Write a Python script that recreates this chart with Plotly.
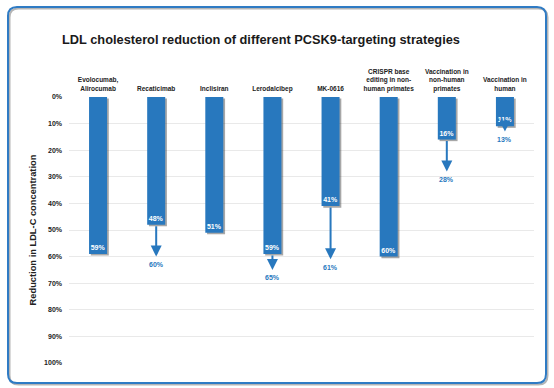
import plotly.graph_objects as go

categories = ["Evolocumab,<br>Alirocumab", "Recaticimab", "Inclisiran", "Lerodalcibep",
              "MK-0616", "CRISPR base<br>editing in non-<br>human primates",
              "Vaccination in<br>non-human<br>primates", "Vaccination in<br>human"]
reduction = [59, 48, 51, 59, 41, 60, 16, 11]
reduction_max = [None, 60, None, 65, 61, None, 28, 13]
y_ticks = [0, 10, 20, 30, 40, 50, 60, 70, 80, 90, 100]
y_tick_labels = [f"{v}%" for v in y_ticks]

BLUE = "#2878BE"
FONT = "Liberation Sans, Arial, sans-serif"

# layout geometry (pixels)
W_PX, H_PX = 554, 388
L, R, T, B = 69, 534, 97, 363
PW, PH = R - L, B - T

def px_x(p):
    return round((p - L) / PW, 5)

def px_y(p):
    return round((B - p) / PH, 5)

def rounded_path(l, t, r, b, rad):
    return (f"M{px_x(l+rad)},{px_y(t)} L{px_x(r-rad)},{px_y(t)} "
            f"Q{px_x(r)},{px_y(t)} {px_x(r)},{px_y(t+rad)} "
            f"L{px_x(r)},{px_y(b-rad)} Q{px_x(r)},{px_y(b)} {px_x(r-rad)},{px_y(b)} "
            f"L{px_x(l+rad)},{px_y(b)} Q{px_x(l)},{px_y(b)} {px_x(l)},{px_y(b-rad)} "
            f"L{px_x(l)},{px_y(t+rad)} Q{px_x(l)},{px_y(t)} {px_x(l+rad)},{px_y(t)} Z")

xs = list(range(len(categories)))
bw = 0.31

fig = go.Figure()
# shadow bars
fig.add_trace(go.Bar(x=xs, y=reduction, base=0.6, width=bw, offset=-bw / 2 + 0.03,
                     marker=dict(color="rgba(60,60,60,0.45)", line=dict(width=0)),
                     hoverinfo="skip", showlegend=False))
# main bars
fig.add_trace(go.Bar(x=xs, y=reduction, width=bw, offset=-bw / 2,
                     marker=dict(color=BLUE, line=dict(width=0)),
                     text=[f"{v}%" for v in reduction], texttemplate="%{text}",
                     textposition="inside", insidetextanchor="end",
                     textangle=0, constraintext="none",
                     textfont=dict(family=FONT, size=7, color="white", weight="bold"),
                     showlegend=False))

annotations = []
for i, (a, b) in enumerate(zip(reduction, reduction_max)):
    if b is None:
        continue
    annotations.append(dict(x=i, y=b, ax=i, ay=a, xref="x", yref="y", axref="x", ayref="y",
                            text="", showarrow=True, arrowhead=2, arrowsize=1.1,
                            arrowwidth=2, arrowcolor=BLUE, standoff=0, startstandoff=0))
    annotations.append(dict(x=i, y=b, xref="x", yref="y", text=f"{b}%", showarrow=False,
                            yanchor="middle", yshift=-8,
                            font=dict(family=FONT, size=7, color=BLUE, weight="bold")))

shapes = [
    dict(type="path", xref="paper", yref="paper", path=rounded_path(9.5, 8.5, 547.5, 384.5, 9),
         line=dict(color="rgba(90,90,90,0.45)", width=2), fillcolor="rgba(0,0,0,0)"),
    dict(type="path", xref="paper", yref="paper", path=rounded_path(8, 7, 546, 383, 9),
         line=dict(color="#2F7BC4", width=2), fillcolor="rgba(0,0,0,0)"),
]

fig.update_layout(
    width=W_PX, height=H_PX,
    margin=dict(l=L, r=W_PX - R, t=T, b=H_PX - B),
    paper_bgcolor="white", plot_bgcolor="white",
    barmode="overlay",
    title=dict(text="LDL cholesterol reduction of different PCSK9-targeting strategies",
               x=261 / W_PX, xanchor="center", xref="container",
               y=1 - 40 / H_PX, yanchor="middle", yref="container",
               font=dict(family=FONT, size=12.8, color="#1a1a1a", weight="bold")),
    xaxis=dict(type="linear", range=[-0.5, 7.5], side="top", tickmode="array",
               tickvals=xs, ticktext=categories, showgrid=False, zeroline=False,
               showline=False, ticks="", ticklabelstandoff=4,
               tickfont=dict(family=FONT, size=6.5, color="#222222", weight="bold")),
    yaxis=dict(range=[100, 0], tickmode="array", tickvals=y_ticks, ticktext=y_tick_labels,
               showgrid=True, gridcolor="#e9e9e9", gridwidth=1, zeroline=False,
               showline=False, ticks="", ticklabelstandoff=6,
               tickfont=dict(family=FONT, size=7, color="#222222", weight="bold"),
               title=dict(text="Reduction in LDL-C concentration", standoff=5,
                          font=dict(family=FONT, size=9.3, color="#222222", weight="bold"))),
    annotations=annotations,
    shapes=shapes,
)

fig.write_html("out.html", config={"displayModeBar": False},
               post_script=("document.documentElement.style.overflow='hidden';"
                            "document.body.style.overflow='hidden';"
                            "document.body.style.margin='0';document.body.style.padding='0';"))
